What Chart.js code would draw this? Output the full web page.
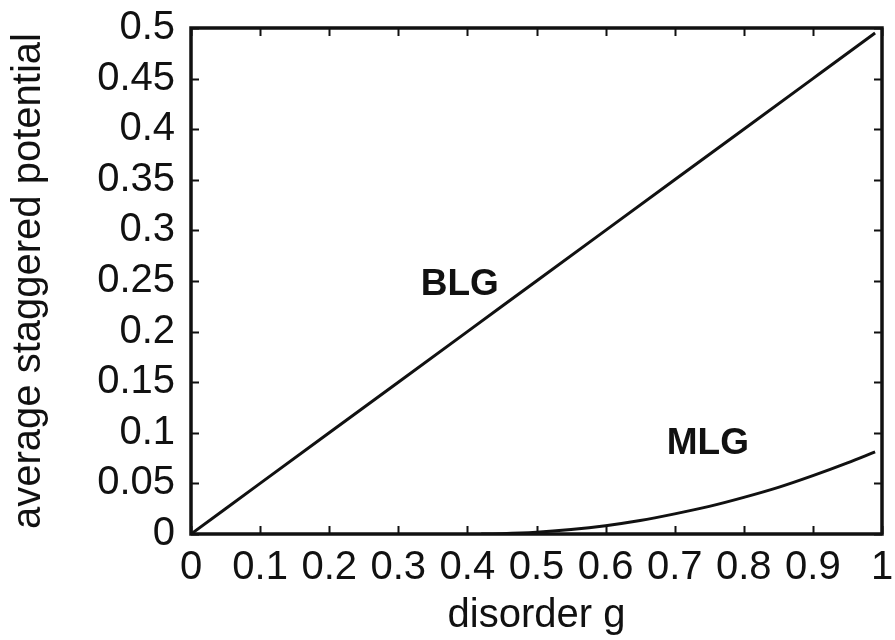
<!DOCTYPE html>
<html>
<head>
<meta charset="utf-8">
<style>
  html, body { margin: 0; padding: 0; background: #fff; }
  canvas { display: block; }
</style>
<script src="https://cdn.jsdelivr.net/npm/chart.js@4/dist/chart.umd.min.js"></script>
</head>
<body>
<canvas id="potChart" width="895" height="640"></canvas>
<script>
// bilayer graphene: average staggered potential vs disorder
const gBLG = [0, 0.1, 0.2, 0.3, 0.4, 0.5, 0.6, 0.7, 0.8, 0.9, 0.99]
const potBLG = [0, 0.05, 0.1, 0.15, 0.2, 0.25, 0.3, 0.35, 0.4, 0.45, 0.495]

// monolayer graphene
const gMLG = [0.42, 0.45, 0.5, 0.55, 0.6, 0.65, 0.7, 0.75, 0.8, 0.85, 0.9, 0.95, 0.99]
const potMLG = [0, 0.0003, 0.0017, 0.0044, 0.0082, 0.0133, 0.0199, 0.0273, 0.0362, 0.0461, 0.0577, 0.0703, 0.0812]

const xTicks = [0, 0.1, 0.2, 0.3, 0.4, 0.5, 0.6, 0.7, 0.8, 0.9, 1]
const yTicks = [0, 0.05, 0.1, 0.15, 0.2, 0.25, 0.3, 0.35, 0.4, 0.45, 0.5]

const curveLabels = [
  { text: 'BLG', x: 0.389, y: 0.246 },
  { text: 'MLG', x: 0.748, y: 0.089 }
]

const ink = '#111'
const fontFamily = '"Liberation Sans", Arial, Helvetica, sans-serif'

function toPoints(xs, ys) {
  return xs.map((x, i) => ({ x: x, y: ys[i] }))
}

function fmt(v) {
  return String(parseFloat(v.toFixed(2)))
}

// box frame with ticks pointing inward on all four sides, plus curve labels
const framePlugin = {
  id: 'frame',
  afterDatasetsDraw(chart) {
    const ctx = chart.ctx
    const area = chart.chartArea
    const xs = chart.scales.x
    const ys = chart.scales.y
    const tick = 8

    ctx.save()
    ctx.strokeStyle = ink
    ctx.lineWidth = 2
    ctx.beginPath()
    xTicks.forEach(v => {
      const px = Math.round(xs.getPixelForValue(v)) + 0.5
      ctx.moveTo(px, area.bottom)
      ctx.lineTo(px, area.bottom - tick)
      ctx.moveTo(px, area.top)
      ctx.lineTo(px, area.top + tick)
    })
    yTicks.forEach(v => {
      const py = Math.round(ys.getPixelForValue(v)) + 0.5
      ctx.moveTo(area.left, py)
      ctx.lineTo(area.left + tick, py)
      ctx.moveTo(area.right, py)
      ctx.lineTo(area.right - tick, py)
    })
    ctx.stroke()

    ctx.lineWidth = 3.5
    ctx.strokeRect(area.left, area.top, area.right - area.left, area.bottom - area.top)

    ctx.fillStyle = ink
    ctx.font = 'bold 37px ' + fontFamily
    ctx.textAlign = 'center'
    ctx.textBaseline = 'middle'
    curveLabels.forEach(l => {
      ctx.fillText(l.text, xs.getPixelForValue(l.x), ys.getPixelForValue(l.y))
    })
    ctx.restore()
  }
}

const lineStyle = {
  borderColor: ink,
  borderWidth: 3,
  pointRadius: 0,
  fill: false,
  cubicInterpolationMode: 'monotone'
}

new Chart(document.getElementById('potChart'), {
  type: 'line',
  data: {
    datasets: [
      Object.assign({ label: 'BLG', data: toPoints(gBLG, potBLG) }, lineStyle),
      Object.assign({ label: 'MLG', data: toPoints(gMLG, potMLG) }, lineStyle)
    ]
  },
  options: {
    responsive: false,
    animation: false,
    devicePixelRatio: 1,
    layout: { padding: { top: 28, right: 13, left: 0, bottom: 0 } },
    plugins: {
      legend: { display: false },
      tooltip: { enabled: false }
    },
    scales: {
      x: {
        type: 'linear',
        min: 0,
        max: 1,
        afterFit: scale => {
          scale.height = 106
          scale.paddingLeft = 0
          scale.paddingRight = 0
        },
        afterBuildTicks: scale => { scale.ticks = xTicks.map(v => ({ value: v })) },
        grid: { display: false, drawTicks: false },
        border: { display: false },
        ticks: {
          autoSkip: false,
          maxRotation: 0,
          padding: 10,
          color: ink,
          font: { family: fontFamily, size: 40 },
          callback: v => fmt(v)
        },
        title: {
          display: true,
          text: 'disorder g',
          color: ink,
          font: { family: fontFamily, size: 40 },
          padding: { top: 0, bottom: 0 }
        }
      },
      y: {
        type: 'linear',
        min: 0,
        max: 0.5,
        afterFit: scale => {
          scale.width = 191
          scale.paddingTop = 0
          scale.paddingBottom = 0
        },
        afterBuildTicks: scale => { scale.ticks = yTicks.map(v => ({ value: v })) },
        grid: { display: false, drawTicks: false },
        border: { display: false },
        ticks: {
          autoSkip: false,
          padding: 16,
          color: ink,
          font: { family: fontFamily, size: 40 },
          callback: v => fmt(v)
        },
        title: {
          display: true,
          text: 'average staggered potential',
          color: ink,
          font: { family: fontFamily, size: 40 },
          padding: { top: 5, bottom: 0 }
        }
      }
    }
  },
  plugins: [framePlugin]
})
</script>
</body>
</html>
